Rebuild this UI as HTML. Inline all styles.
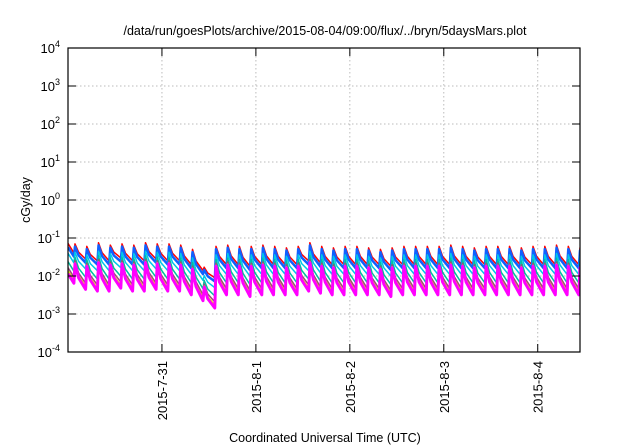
<!DOCTYPE html>
<html><head><meta charset="utf-8"><style>
body{margin:0;background:#fff;}
svg{display:block;font-family:"Liberation Sans",sans-serif;}
</style></head><body>
<svg id="chart" width="640" height="448" viewBox="0 0 640 448">
<text x="325" y="35" font-size="12.5" text-anchor="middle">/data/run/goesPlots/archive/2015-08-04/09:00/flux/../bryn/5daysMars.plot</text>
<text transform="translate(30,200) rotate(-90)" font-size="12.5" text-anchor="middle">cGy/day</text>
<text x="325" y="442" font-size="12.5" text-anchor="middle">Coordinated Universal Time (UTC)</text>
<g id="grid"></g><g id="series"></g><g id="axes"></g>
</svg>
<script>
const dayLabels = ["2015-7-31","2015-8-1","2015-8-2","2015-8-3","2015-8-4"];
const dayPositions = [1,2,3,4,5]; // days since 2015-7-30 00:00
const yDecades = [-4,-3,-2,-1,0,1,2,3,4];
const startValue = 0.045;
const peakHours = 1.8; // first peak hour offset; cycles every 3 h
const redPeaks = [0.07,0.06,0.075,0.065,0.07,0.065,0.075,0.07,0.07,0.065,0.05,0.017,0.06,0.065,0.06,0.06,0.065,0.06,0.055,0.06,0.075,0.06,0.055,0.06,0.06,0.055,0.05,0.055,0.06,0.06,0.06,0.06,0.065,0.06,0.055,0.06,0.06,0.06,0.055,0.06,0.06,0.065,0.06,0.055];
const redTroughs = [0.028,0.025,0.025,0.03,0.025,0.025,0.028,0.025,0.025,0.02,0.014,0.009,0.02,0.02,0.018,0.02,0.02,0.02,0.02,0.025,0.022,0.02,0.02,0.02,0.02,0.02,0.018,0.02,0.02,0.02,0.02,0.02,0.02,0.02,0.02,0.02,0.02,0.02,0.02,0.02,0.02,0.02,0.02,0.018];
const seriesNames = ["red","blue","cyan","green","purple","yellow","magenta"];
const peakFactors = [1,0.85,0.6,0.45,0.36,0.32,0.3];
const troughFactors = [1,0.8,0.55,0.33,0.23,0.19,0.16];
const seriesColors = ["#ff0000","#1060ff","#00c8e8","#00c0a0","#9a4a7a","#e8e000","#ff00ff"];
const seriesWidths = [1.5,2.5,1.5,1.5,1.5,1.5,3];

const L=68,R=580,T=48,B=352, D0=0, D1=5.45;
const xs=d=>L+(d-D0)/(D1-D0)*(R-L);
const ys=v=>B-(Math.log10(v)+4)/8*(B-T);
const NS="http://www.w3.org/2000/svg";
function mk(tag,parent,attrs){const e=document.createElementNS(NS,tag);for(const k in attrs)e.setAttribute(k,attrs[k]);parent.appendChild(e);return e;}
const grid=document.getElementById('grid'),axes=document.getElementById('axes'),ser=document.getElementById('series');
yDecades.forEach((d,i)=>{const y=ys(Math.pow(10,d));
 if(d>-4&&d<4){const g=mk('line',grid,{x1:L,x2:R,y1:y,y2:y,stroke:'#bbb','stroke-dasharray':'1.5,2.5'});
 
 }
 const t=mk('line',axes,{x1:L,x2:L+8,y1:y,y2:y,stroke:'#000'});
 
 
 const t2=mk('line',axes,{x1:R-8,x2:R,y1:y,y2:y,stroke:'#000'});
 
 
 const lb=mk('text',axes,{x:L-8,y:y+5,'font-size':'13','text-anchor':'end'});
 
 
 lb.textContent='10';
 const sp=mk('tspan',lb,{dy:'-6','font-size':'9'});sp.textContent=String(d);
});
dayPositions.forEach((d,i)=>{const x=xs(d);
 const g=mk('line',grid,{x1:x,x2:x,y1:T,y2:B,stroke:'#bbb','stroke-dasharray':'1.5,2.5'});
 
 
 const t=mk('line',axes,{x1:x,x2:x,y1:B-8,y2:B,stroke:'#000'});
 
 
 const t2=mk('line',axes,{x1:x,x2:x,y1:T,y2:T+8,stroke:'#000'});
 
 
 const lb=mk('text',axes,{transform:`translate(${x+5},${B+9}) rotate(-90)`,'font-size':'13','text-anchor':'end'});
 
 
 lb.textContent=dayLabels[i];
});
const fr=mk('rect',axes,{x:L,y:T,width:R-L,height:B-T,fill:'none',stroke:'#000','stroke-width':'1.2'});


const cp=mk('clipPath',ser,{id:'clip'});mk('rect',cp,{x:L,y:T,width:R-L,height:B-T});
seriesNames.forEach((n,s)=>{
 let pts=[[0,startValue*troughFactors[s]*1.6]];
 redPeaks.forEach((p,k)=>{const h=peakHours+3*k;
  const prevTr=k===0?startValue*troughFactors[s]*0.9:redTroughs[k-1]*troughFactors[s];
  if(k>0){const pp=redPeaks[k-1]*peakFactors[s];
   pts.push([(h-3+0.9)/24,pp*Math.pow(prevTr/pp,0.55)]);}
  pts.push([(h-0.3)/24,prevTr]);
  pts.push([h/24,p*peakFactors[s]]);
 });
 pts.push([(peakHours+3*redPeaks.length-0.3)/24,redTroughs[redTroughs.length-1]*troughFactors[s]]);
 const dstr=pts.map((p,i)=>(i?'L':'M')+xs(p[0]).toFixed(1)+','+ys(p[1]).toFixed(1)).join('');
 const e=mk('path',ser,{d:dstr,fill:'none',stroke:seriesColors[s],'stroke-width':seriesWidths[s],'clip-path':'url(#clip)','stroke-linejoin':'round'});
 
 
});
</script>
</body></html>
